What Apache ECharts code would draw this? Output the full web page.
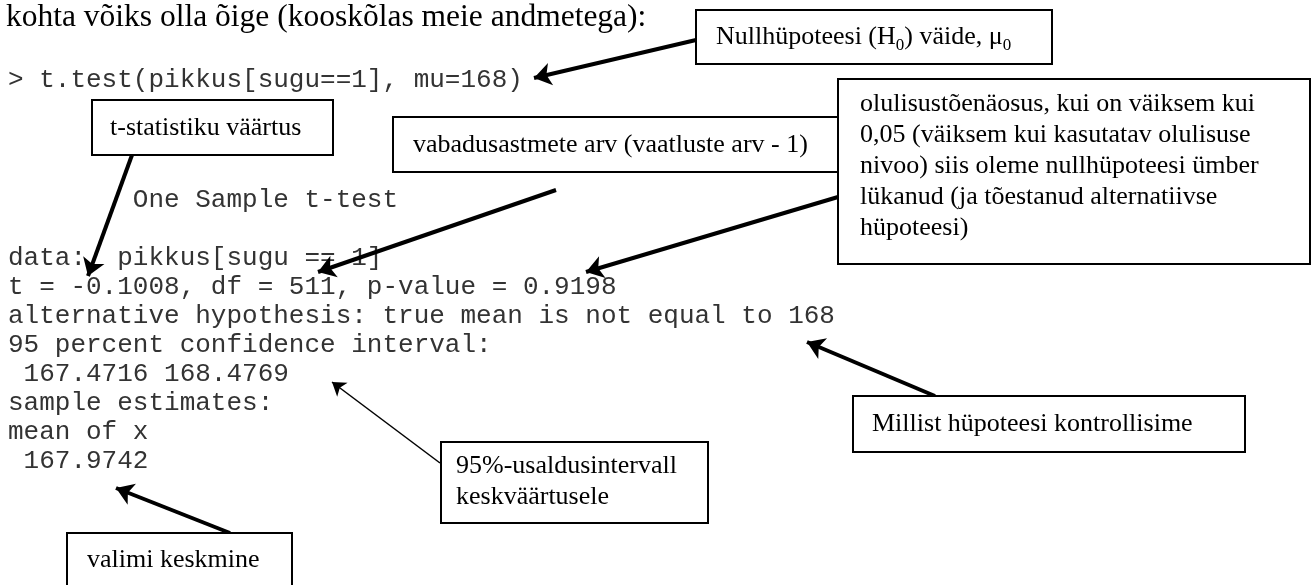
<!DOCTYPE html>
<html><head><meta charset="utf-8">
<script src="https://cdn.jsdelivr.net/npm/echarts@6/dist/echarts.min.js"></script>
<style>html,body{margin:0;padding:0;background:#fff}#c{width:1315px;height:585px}</style>
</head><body><div id="c"></div>
<script>
// ---- content ----
const titleText = 'kohta võiks olla õige (kooskõlas meie andmetega):';
const codeLines = [
  '> t.test(pikkus[sugu==1], mu=168)',
  '        One Sample t-test',
  'data:  pikkus[sugu == 1]',
  't = -0.1008, df = 511, p-value = 0.9198',
  'alternative hypothesis: true mean is not equal to 168',
  '95 percent confidence interval:',
  ' 167.4716 168.4769',
  'sample estimates:',
  'mean of x ',
  ' 167.9742 '
];
// note texts: each line is a list of segments, [text, isSubscript]
const noteNull  = [[['Nullhüpoteesi (H', 0], ['0', 1], [') väide, μ', 0], ['0', 1]]];
const noteT     = [[['t-statistiku väärtus', 0]]];
const noteDf    = [[['vabadusastmete arv (vaatluste arv - 1)', 0]]];
const noteP     = [
  [['olulisustõenäosus, kui on väiksem kui', 0]],
  [['0,05 (väiksem kui kasutatav olulisuse', 0]],
  [['nivoo) siis oleme nullhüpoteesi ümber', 0]],
  [['lükanud (ja tõestanud alternatiivse', 0]],
  [['hüpoteesi)', 0]]
];
const noteHyp   = [[['Millist hüpoteesi kontrollisime', 0]]];
const noteCi    = [[['95%-usaldusintervall', 0]], [['keskväärtusele', 0]]];
const noteMean  = [[['valimi keskmine', 0]]];
const notes = [noteNull, noteT, noteDf, noteP, noteHyp, noteCi, noteMean];

// ---- layout (axis units = page pixels) ----
const titlePos = [6, 18];
const codeX = 8;
const codeRowY = [80, 200, 258, 287, 316, 345, 374, 403, 432, 461];
// box corners [x0, y0, x1, y1] and first text line [x, y]
const boxRects = [
  [696, 10, 1052, 64],
  [92, 100, 333, 155],
  [393, 117, 860, 172],
  [838, 79, 1310, 264],
  [853, 396, 1245, 452],
  [441, 442, 708, 523],
  [67, 533, 292, 600]
];
const boxTextPos = [
  [716, 37], [110, 128], [413, 145], [860, 104], [872, 424], [456, 466], [87, 560]
];
// arrows [tailX, tailY, tipX, tipY]
const arrows = [
  [696, 40, 534, 78],
  [132, 155, 88, 276],
  [556, 190, 318, 272],
  [838, 197, 586, 272],
  [935, 396, 807, 342],
  [440, 463, 332, 382],
  [230, 533, 116, 488]
];
const arrowWidths = [4, 4, 4, 4, 4, 1.5, 4];

// ---- styles ----
const SERIF = '"Liberation Serif", "Times New Roman", serif';
const MONO = '"Liberation Mono", "Courier New", monospace';
const noteFont = '26px ' + SERIF;
const subFont = '17px ' + SERIF;
const lineGap = 31;

const measureCtx = document.createElement('canvas').getContext('2d');
function textW(t, font) { measureCtx.font = font; return measureCtx.measureText(t).width; }

const chart = echarts.init(document.getElementById('c'), null, {renderer: 'canvas'});
chart.setOption({
  animation: false,
  backgroundColor: '#ffffff',
  grid: {left: 0, right: 0, top: 0, bottom: 0},
  xAxis: {type: 'value', min: 0, max: 1315, show: false},
  yAxis: {type: 'value', min: 0, max: 585, inverse: true, show: false},
  series: [
    {
      type: 'custom', name: 'title', clip: false, z: 3,
      data: [[titlePos[0], titlePos[1]]],
      renderItem: function (params, api) {
        const p = api.coord([api.value(0), api.value(1)]);
        return {type: 'text', x: p[0], y: p[1],
          style: {text: titleText, font: '31.5px ' + SERIF, fill: '#000', align: 'left', verticalAlign: 'middle'}};
      }
    },
    {
      type: 'custom', name: 'code', clip: false, z: 3,
      data: codeRowY.map((y, i) => [codeX, y, i]),
      renderItem: function (params, api) {
        const p = api.coord([api.value(0), api.value(1)]);
        return {type: 'text', x: p[0], y: p[1],
          style: {text: codeLines[api.value(2)], font: '26px ' + MONO, fill: '#333', align: 'left', verticalAlign: 'middle'}};
      }
    },
    {
      type: 'lines', name: 'arrows', coordinateSystem: 'cartesian2d', z: 4,
      symbol: ['none', 'arrow'], symbolSize: [0, 17],
      lineStyle: {color: '#000', opacity: 1, curveness: 0},
      data: arrows.map((a, i) => ({
        coords: [[a[0], a[1]], [a[2], a[3]]],
        symbolSize: arrowWidths[i] < 2 ? [0, 13] : [0, 17],
        lineStyle: {width: arrowWidths[i], color: '#000'}
      }))
    },
    {
      type: 'custom', name: 'notes', clip: false, z: 5,
      data: boxRects.map((b, i) => [b[0], b[1], b[2], b[3], boxTextPos[i][0], boxTextPos[i][1], i]),
      renderItem: function (params, api) {
        const a = api.coord([api.value(0), api.value(1)]);
        const b = api.coord([api.value(2), api.value(3)]);
        const t = api.coord([api.value(4), api.value(5)]);
        const note = notes[api.value(6)];
        const children = [{
          type: 'rect',
          shape: {x: a[0], y: a[1], width: b[0] - a[0], height: b[1] - a[1]},
          style: {fill: '#fff', stroke: '#000', lineWidth: 2}
        }];
        note.forEach((line, li) => {
          let x = t[0];
          const y = t[1] + li * lineGap;
          line.forEach(seg => {
            const f = seg[1] ? subFont : noteFont;
            children.push({type: 'text', x: x, y: seg[1] ? y + 9 : y,
              style: {text: seg[0], font: f, fill: '#000', align: 'left', verticalAlign: 'middle'}});
            x += textW(seg[0], f);
          });
        });
        return {type: 'group', children: children};
      }
    }
  ]
});
</script>
</body></html>
